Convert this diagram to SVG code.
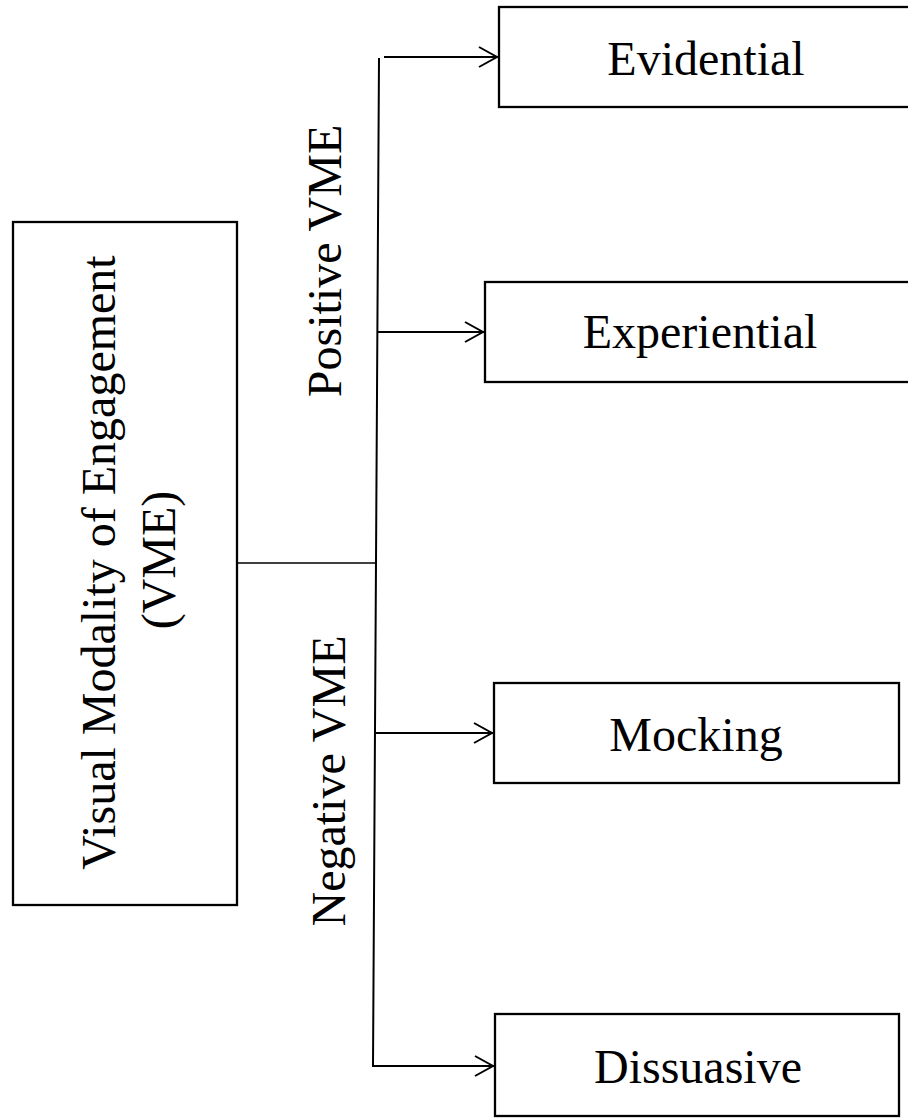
<svg xmlns="http://www.w3.org/2000/svg" width="908" height="1118" viewBox="0 0 908 1118">
  <style>
    .box { fill: #ffffff; stroke: #000000; stroke-width: 2.3; }
    .lbl { font-family: "Liberation Serif", "Times New Roman", serif; font-size: 48px; fill: #000000; text-anchor: middle; }
    .conn { fill: none; stroke: #000000; stroke-width: 2; }
    .thin { fill: none; stroke: #000000; stroke-width: 1.3; }
  </style>
  <defs>
    <marker id="arr" markerUnits="userSpaceOnUse" markerWidth="24" markerHeight="26" refX="20" refY="11" orient="auto" overflow="visible">
      <path d="M1,1 L19,11 L1,21" fill="none" stroke="#000000" stroke-width="2"/>
    </marker>
  </defs>
  <rect width="908" height="1118" fill="#ffffff"/>

  <g id="connectors">
    <line class="thin" x1="238" y1="563" x2="377" y2="563"/>
    <polyline class="conn" points="379,58 373,1066 494,1066" marker-end="url(#arr)"/>
    <line class="conn" x1="384" y1="57" x2="498" y2="57" marker-end="url(#arr)"/>
    <line class="conn" x1="377" y1="332" x2="484" y2="332" marker-end="url(#arr)"/>
    <line class="conn" x1="376" y1="733" x2="493" y2="733" marker-end="url(#arr)"/>
  </g>

  <g id="label-positive">
    <text class="lbl" transform="translate(341,261) rotate(-90)">Positive VME</text>
  </g>
  <g id="label-negative">
    <text class="lbl" transform="translate(345,781) rotate(-90)">Negative VME</text>
  </g>

  <g id="node-vme">
    <rect class="box" x="13" y="222" width="224" height="683"/>
    <text class="lbl" transform="translate(115,562.5) rotate(-90)">Visual Modality of Engagement</text>
    <text class="lbl" transform="translate(175,560) rotate(-90)">(VME)</text>
  </g>

  <g id="node-evidential">
    <rect class="box" x="499" y="7" width="420" height="100"/>
    <text class="lbl" x="706" y="75">Evidential</text>
  </g>

  <g id="node-experiential">
    <rect class="box" x="485" y="282" width="434" height="100"/>
    <text class="lbl" x="700" y="348">Experiential</text>
  </g>

  <g id="node-mocking">
    <rect class="box" x="494" y="683" width="405" height="100"/>
    <text class="lbl" x="696" y="751">Mocking</text>
  </g>

  <g id="node-dissuasive">
    <rect class="box" x="495" y="1014" width="404" height="102"/>
    <text class="lbl" x="698" y="1083">Dissuasive</text>
  </g>
</svg>
